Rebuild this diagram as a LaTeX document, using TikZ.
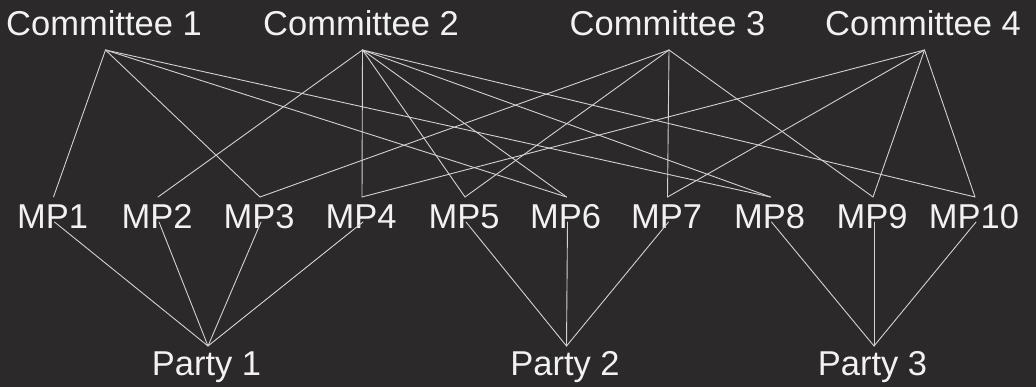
\documentclass[tikz,border=0pt]{standalone}
\usepackage{fontspec}
\setmainfont{Liberation Sans}
\definecolor{bgc}{RGB}{43,41,41}
\definecolor{txt}{RGB}{242,242,242}
\definecolor{edg}{RGB}{210,210,210}
\begin{document}
\begin{tikzpicture}[x=1pt,y=-1pt,
  lbl/.style={anchor=base,inner sep=0pt,text=txt,font=\fontsize{34.5}{40}\selectfont},
  edge/.style={draw=edg,line width=0.9pt,line cap=round}]
\fill[bgc] (0,0) rectangle (1036,387);
\useasboundingbox (0,0) rectangle (1036,387);
% committees
\foreach \n/\x in {1/104,2/361,3/667.5,4/923}{
  \node[lbl] (C\n) at (\x,36) {Committee \n};
  \coordinate (c\n) at ([xshift=1.5pt,yshift=-14pt]C\n.base);
}
% MPs
\foreach \n/\x in {1/52.5,2/157,3/259,4/361,5/464,6/565.5,7/666.5,8/769.5,9/872,10/974}{
  \node[lbl] (M\n) at (\x,229) {MP\n};
  \coordinate (mt\n) at ([xshift=1pt,yshift=32pt]M\n.base);
  \coordinate (mb\n) at ([xshift=2pt,yshift=7pt]M\n.base);
}
% parties
\foreach \n/\x in {1/206.5,2/565,3/872.5}{
  \node[lbl] (P\n) at (\x,375) {Party \n};
  \coordinate (p\n) at ([xshift=1.5pt,yshift=29pt]P\n.base);
}
% committee memberships
\foreach \c/\m in {1/1,1/3,1/6,1/8,
                   2/2,2/4,2/5,2/6,2/8,2/10,
                   3/3,3/5,3/7,3/9,
                   4/4,4/7,4/9,4/10}{
  \draw[edge] (c\c) -- (mt\m);
}
% party memberships
\foreach \p/\m in {1/1,1/2,1/3,1/4,2/5,2/6,2/7,3/8,3/9,3/10}{
  \draw[edge] (p\p) -- (mb\m);
}
\end{tikzpicture}
\end{document}
